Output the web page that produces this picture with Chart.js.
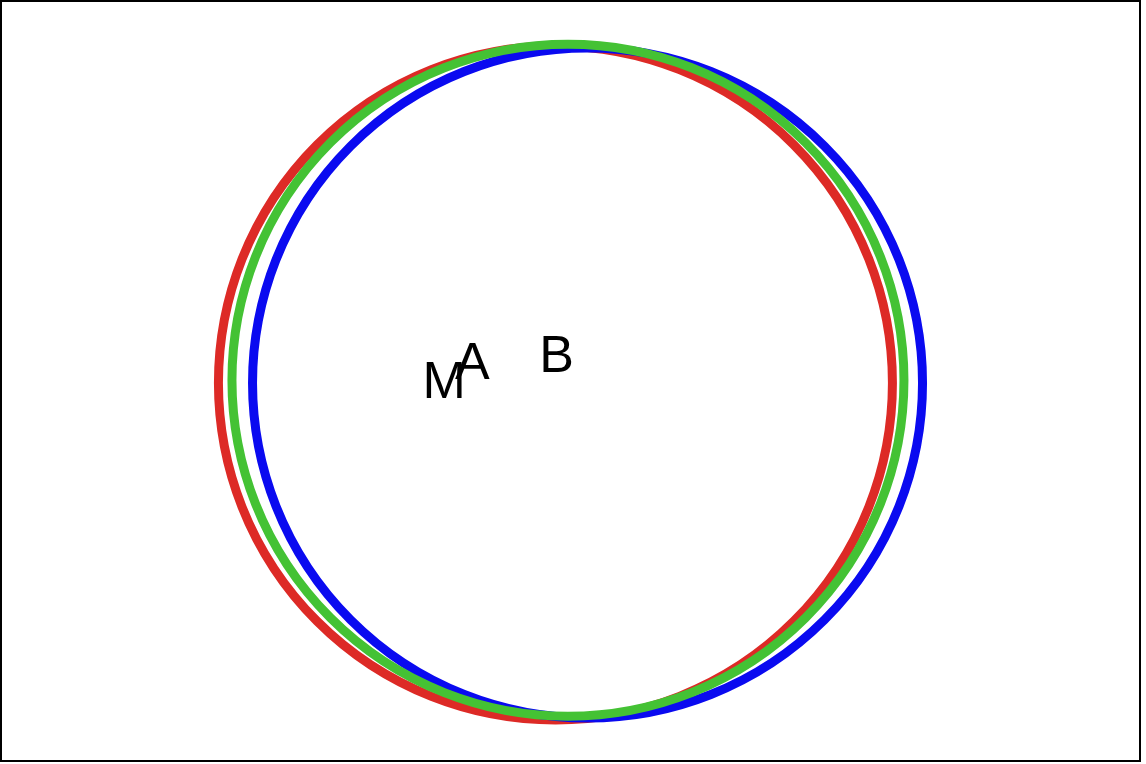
<!DOCTYPE html>
<html>
<head>
<meta charset="utf-8">
<script src="https://cdn.jsdelivr.net/npm/chart.js@4"></script>
<style>
  body { margin: 0; background: #fff; }
  #wrap { position: absolute; left: 0; top: 0; width: 1137px; height: 758px; border: 2px solid #000; }
</style>
</head>
<body>
<div id="wrap"><canvas id="circles"></canvas></div>
<script>
// circles: centre x, centre y, radius (page pixels)
const circleNames = ["green", "blue", "red"];
const centerX = [564, 614, 532];
const centerY = [372, 404, 404];
const radius = [336, 335, 337];
const circleColors = ["#44c234", "#0a0af0", "#dd2a26"];

// point labels
const labelText = ["A", "B", "M"];
const labelX = [320, 535, 248];
const labelY = [195, 115, 408];

const labelPlugin = {
    id: "pointLabels",
    afterDatasetsDraw(chart) {
        const c = chart.ctx;
        const xs = chart.scales.x, ys = chart.scales.y;
        c.save();
        c.fillStyle = "#000";
        c.font = "52px 'Liberation Sans', Arial, sans-serif";
        c.textAlign = "center";
        c.textBaseline = "middle";
        labelText.forEach((t, i) => {
            c.fillText(t, xs.getPixelForValue(labelX[i]), ys.getPixelForValue(labelY[i]));
        });
        c.restore();
    }
};

new Chart(document.getElementById("circles").getContext("2d"), {
    type: "scatter",
    data: {
        datasets: circleNames.map((n, i) => ({
            label: n,
            data: [{x: centerX[i], y: centerY[i]}],
            pointRadius: radius[i],
            pointHoverRadius: radius[i],
            backgroundColor: "rgba(0,0,0,0)",
            borderColor: circleColors[i],
            borderWidth: 9,
            pointBorderWidth: 9,
            showLine: false,
            clip: false
        }))
    },
    options: {
        responsive: true,
        maintainAspectRatio: false,
        animation: false,
        events: [],
        layout: {padding: 0},
        plugins: {legend: {display: false}, tooltip: {enabled: false}},
        scales: {
            x: {type: "linear", min: 2, max: 1139, display: false},
            y: {type: "linear", min: 2, max: 760, reverse: true, display: false}
        }
    },
    plugins: [labelPlugin]
});
</script>
</body>
</html>
